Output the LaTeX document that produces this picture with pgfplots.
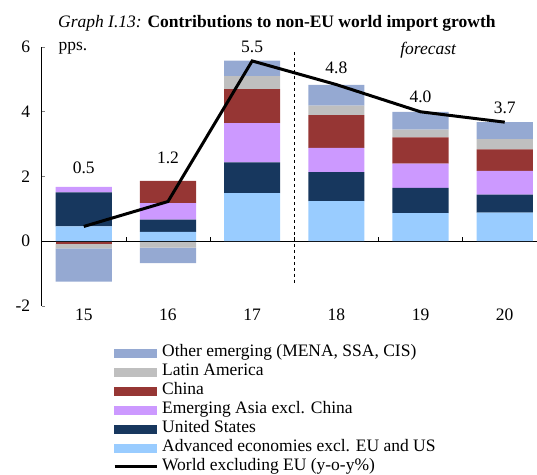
\documentclass[border=0pt]{standalone}
\usepackage{fontspec}
\setmainfont{Liberation Serif}
\usepackage{pgfplots}
\pgfplotsset{compat=1.18}

\definecolor{othc}{RGB}{149,169,210}
\definecolor{latc}{RGB}{191,191,191}
\definecolor{chic}{RGB}{150,54,52}
\definecolor{asic}{RGB}{204,153,255}
\definecolor{usc}{RGB}{23,55,94}
\definecolor{advc}{RGB}{153,204,255}

\newcommand{\fs}{\fontsize{17.5}{19}\selectfont}
\newcommand{\barimg}[1]{\addlegendimage{legend image code/.code={\fill[#1] (0pt,-4pt) rectangle (42pt,4pt);}}}

\pgfplotsset{
  base/.style={
    at={(41.7pt,164pt)}, anchor=south west,
    scale only axis, width=495.3pt, height=259.3pt,
    xmin=14.5, xmax=20.38, ymin=-2, ymax=6,
    clip=false,
  },
}

\begin{document}
\begin{tikzpicture}
% negative contributions, stacked downwards from zero
\begin{axis}[base, hide axis, ybar stacked, bar width=0.667]
\addplot[fill=chic, draw=none] coordinates {(15,-0.08) (16,0)};
\addplot[fill=latc, draw=none] coordinates {(15,-0.15) (16,-0.20)};
\addplot[fill=othc, draw=none] coordinates {(15,-1.02) (16,-0.48)};
\end{axis}

\begin{axis}[base, ybar stacked, bar width=0.667,
  axis x line=bottom, axis y line=left, axis line style={-},
  x axis line style={draw=none},
  xtick={15,16,17,18,19,20}, xtick style={draw=none},
  ytick={-2,0,2,4,6}, tick align=inside, major tick length=3pt,
  tick label style={font=\fs},
  /pgf/number format/assume math mode=true,
  yticklabel style={xshift=-8pt},
  legend cell align=left,
  legend style={draw=none, fill=none, at={(0.144,-0.15)}, anchor=north west,
    inner sep=0pt, font=\fs, row sep=3pt, column sep=4pt,
    nodes={inner sep=0pt, text height=12pt, text depth=4pt}},
]
\barimg{othc}\addlegendentry{Other emerging (MENA, SSA, CIS)}
\barimg{latc}\addlegendentry{Latin America}
\barimg{chic}\addlegendentry{China}
\barimg{asic}\addlegendentry{Emerging Asia excl. China}
\barimg{usc}\addlegendentry{United States}
\barimg{advc}\addlegendentry{Advanced economies excl. EU and US}
\addlegendimage{legend image code/.code={\draw[black, line width=3pt] (0pt,0pt) -- (42pt,0pt);}}
\addlegendentry{World excluding EU (y-o-y\%)}

\addplot[fill=advc, draw=none, forget plot] coordinates {(15,0.45) (16,0.28) (17,1.48) (18,1.23) (19,0.86) (20,0.88)};
\addplot[fill=usc, draw=none, forget plot] coordinates {(15,1.05) (16,0.38) (17,0.95) (18,0.90) (19,0.78) (20,0.55)};
\addplot[fill=asic, draw=none, forget plot] coordinates {(15,0.17) (16,0.51) (17,1.21) (18,0.75) (19,0.75) (20,0.74)};
\addplot[fill=chic, draw=none, forget plot] coordinates {(15,0) (16,0.69) (17,1.05) (18,1.01) (19,0.81) (20,0.66)};
\addplot[fill=latc, draw=none, forget plot] coordinates {(15,0) (16,0) (17,0.40) (18,0.29) (19,0.24) (20,0.32)};
\addplot[fill=othc, draw=none, forget plot] coordinates {(15,0) (16,0) (17,0.48) (18,0.64) (19,0.55) (20,0.52)};

\draw[black, line width=0.6pt] (axis cs:14.5,0) -- (axis cs:20.38,0);
\pgfplotsinvokeforeach{15.5,16.5,17.5,18.5,19.5}{\draw[black, line width=0.6pt] (axis cs:#1,0) -- ++(0pt,4.5pt);}
\draw[black, dashed, line width=0.6pt] (axis cs:17.5,5.84) -- (axis cs:17.5,-1.32);

\node[font=\fs] at (axis cs:15,2.26) {0.5};
\node[font=\fs] at (axis cs:16,2.57) {1.2};
\node[font=\fs] at (axis cs:17,6.0) {5.5};
\node[font=\fs] at (axis cs:18,5.35) {4.8};
\node[font=\fs] at (axis cs:19,4.45) {4.0};
\node[font=\fs] at (axis cs:20,4.1) {3.7};
\node[font=\fs\itshape] at (axis cs:19.09,5.9) {forecast};
\node[font=\fs, anchor=west] at (axis cs:14.66,5.95) {pps.};
\end{axis}

% world import growth line, drawn on top of the bars
\begin{axis}[base, hide axis]
\addplot[black, line width=3pt, mark=none] coordinates {(15,0.45) (16,1.22) (17,5.56) (18,4.83) (19,3.99) (20,3.67)};
\end{axis}

\node[anchor=west, font=\fs, inner sep=0pt] at (58pt,447pt) {\textit{Graph I.13:} \textbf{Contributions to non-EU world import growth}};
\path (0,0) rectangle (537pt,470pt);
\end{tikzpicture}
\end{document}
